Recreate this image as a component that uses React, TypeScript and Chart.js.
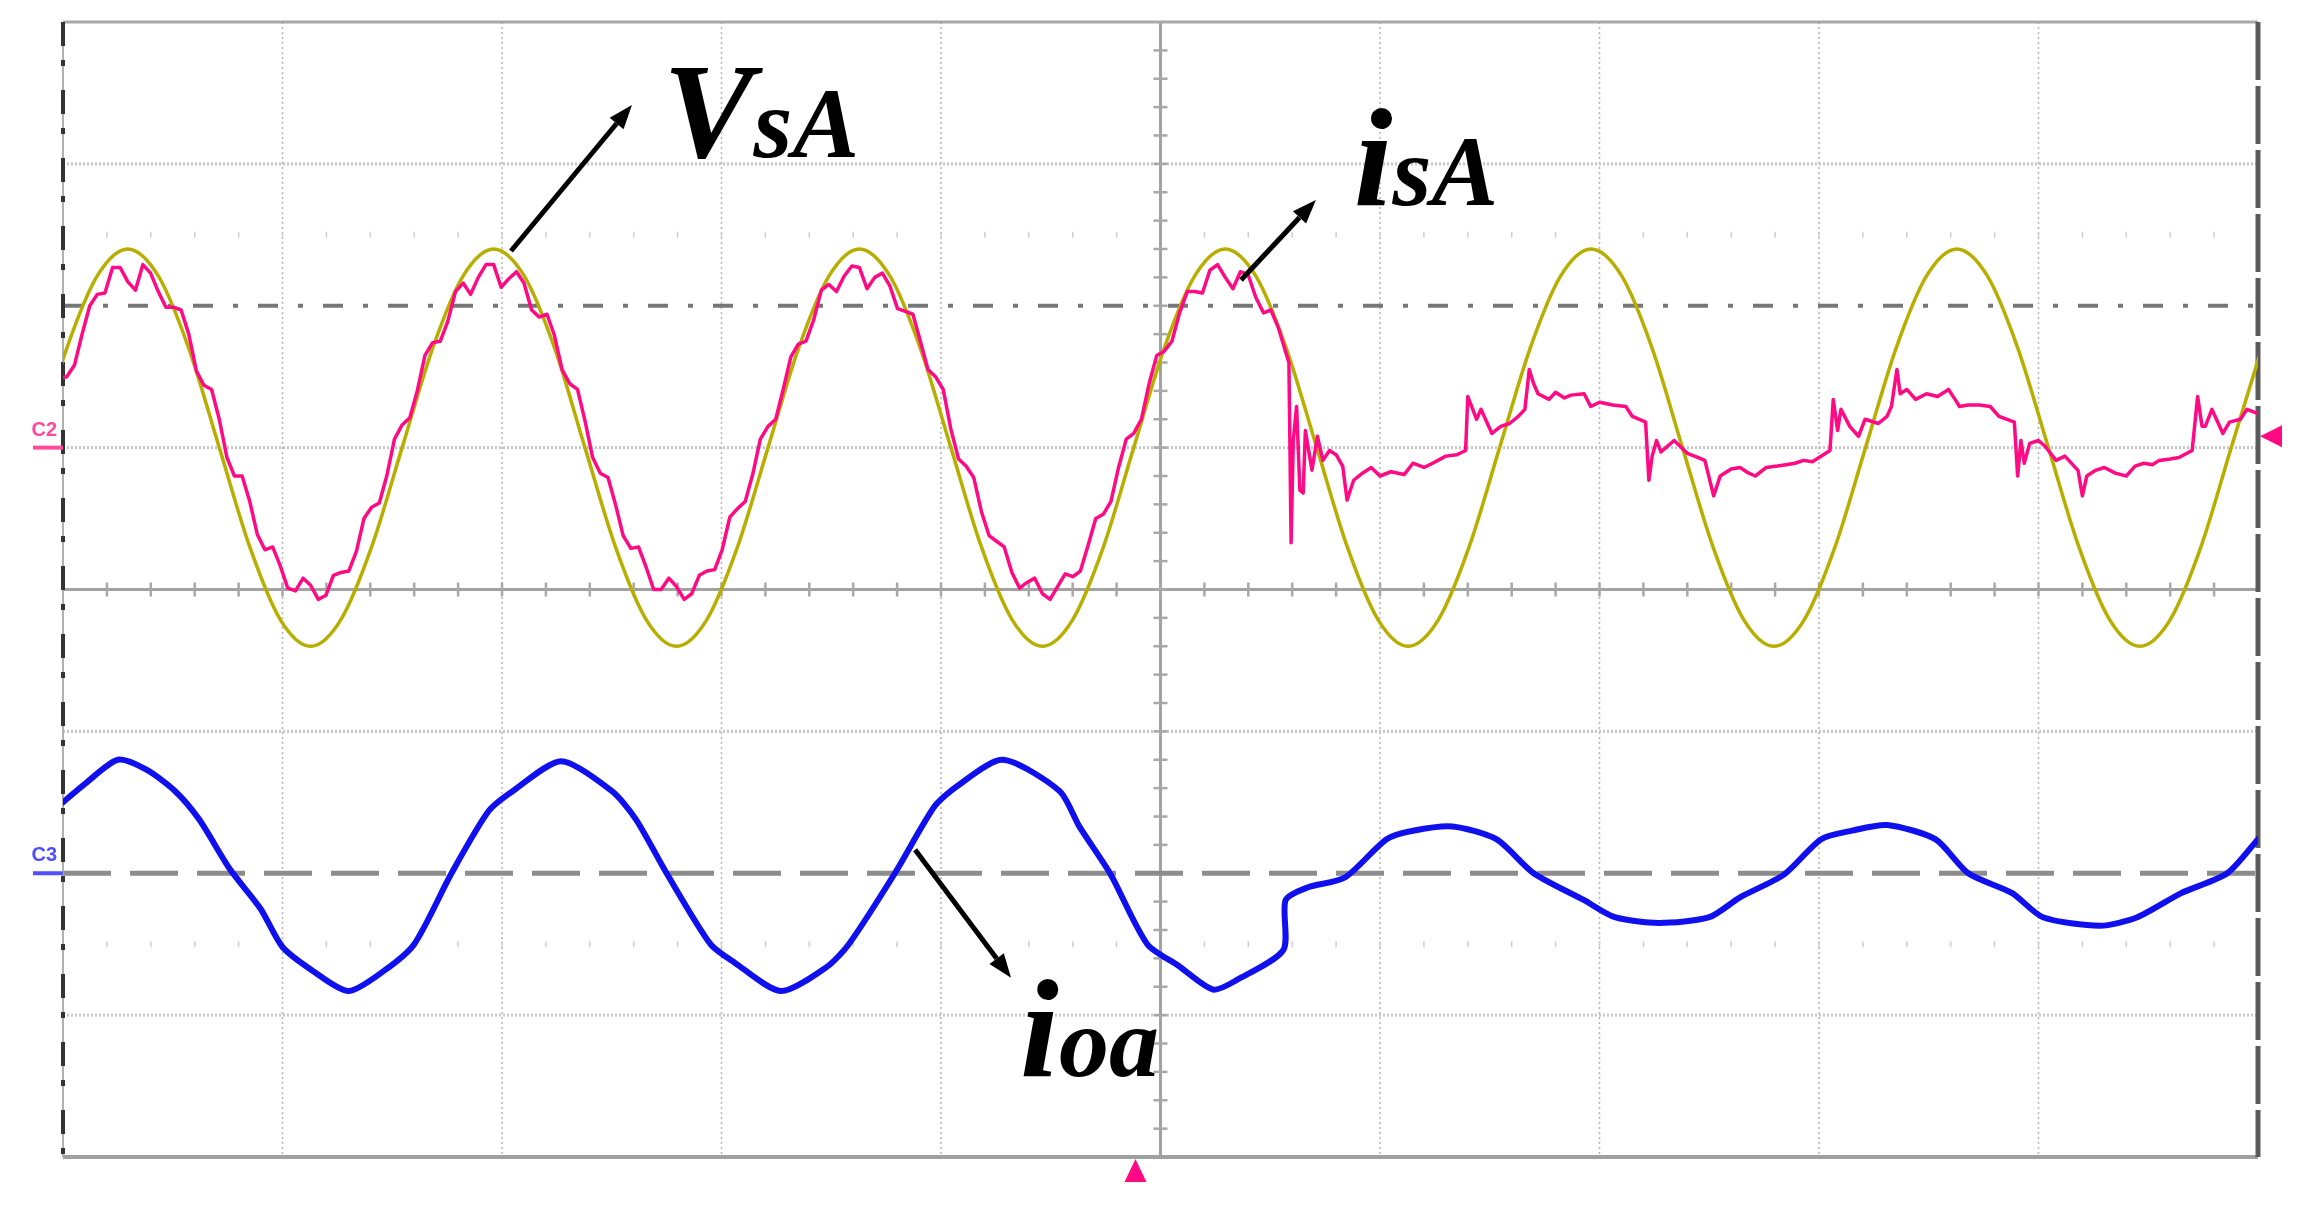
import React, { useEffect, useRef } from "react";
import { Chart, registerables } from "chart.js";

Chart.register(...registerables);

// ---- axis ranges (oscilloscope: 10 x 8 divisions) ----
const X_MIN = 0;
const X_MAX = 10;
const Y_MIN = -4;
const Y_MAX = 4;

// ---- grid layout values (in divisions) ----
const V_DOTTED = [1, 2, 3, 4, 6, 7, 8, 9];
const H_DOTTED = [3, 1, -1, -3];
const CENTER_X = 5;
const CENTER_Y = 0;
const REF_DASHDOT = 2;
const REF_DASHED = -2;
const TICK_ROWS = [2.5, -2.5];

// ---- VsA (supply voltage) ----
const VSA_T = [-0.122, 0.017, 0.156, 0.295, 0.434, 0.573, 0.712, 0.851, 0.989, 1.128, 1.267, 1.406, 1.545, 1.684, 1.823,
  1.962, 2.101, 2.24, 2.378, 2.517, 2.656, 2.795, 2.934, 3.073, 3.212, 3.351, 3.49, 3.628, 3.767, 3.906, 4.045, 4.184,
  4.323, 4.462, 4.601, 4.74, 4.878, 5.017, 5.156, 5.295, 5.434, 5.573, 5.712, 5.851, 5.99, 6.128, 6.267, 6.406, 6.545,
  6.684, 6.823, 6.962, 7.101, 7.24, 7.378, 7.517, 7.656, 7.795, 7.934, 8.073, 8.212, 8.351, 8.49, 8.628, 8.767, 8.906,
  9.045, 9.184, 9.323, 9.462, 9.601, 9.74, 9.878, 10.017];
const VSA_V = [1.0, 1.7, 2.21,
  2.4, 2.21, 1.7, 1.0, 0.3, -0.21, -0.4, -0.21, 0.3, 1.0, 1.7, 2.21,
  2.4, 2.21, 1.7, 1.0, 0.3, -0.21, -0.4, -0.21, 0.3, 1.0, 1.7, 2.21,
  2.4, 2.21, 1.7, 1.0, 0.3, -0.21, -0.4, -0.21, 0.3, 1.0, 1.7, 2.21,
  2.4, 2.21, 1.7, 1.0, 0.3, -0.21, -0.4, -0.21, 0.3, 1.0, 1.7, 2.21,
  2.4, 2.21, 1.7, 1.0, 0.3, -0.21, -0.4, -0.21, 0.3, 1.0, 1.7, 2.21,
  2.4, 2.21, 1.7, 1.0, 0.3, -0.21, -0.4, -0.21, 0.3, 1.0, 1.7];

// ---- isA (source current) ----
const ISA_T = [-0.052, -0.017, 0.017, 0.052, 0.087, 0.122, 0.156, 0.191, 0.226, 0.26, 0.295, 0.33, 0.364, 0.399, 0.434,
  0.469, 0.503, 0.538, 0.573, 0.608, 0.642, 0.677, 0.712, 0.747, 0.781, 0.816, 0.851, 0.885, 0.92, 0.955, 0.989, 1.024,
  1.059, 1.094, 1.128, 1.163, 1.198, 1.232, 1.267, 1.302, 1.337, 1.371, 1.406, 1.441, 1.475, 1.51, 1.545, 1.58, 1.614,
  1.649, 1.684, 1.719, 1.753, 1.788, 1.823, 1.857, 1.892, 1.927, 1.962, 1.996, 2.031, 2.066, 2.1, 2.135, 2.17, 2.205,
  2.239, 2.274, 2.309, 2.344, 2.378, 2.413, 2.448, 2.483, 2.517, 2.552, 2.587, 2.622, 2.656, 2.691, 2.725, 2.76, 2.795,
  2.83, 2.864, 2.899, 2.934, 2.969, 3.003, 3.038, 3.073, 3.108, 3.142, 3.177, 3.212, 3.247, 3.281, 3.316, 3.35, 3.385,
  3.42, 3.455, 3.489, 3.524, 3.559, 3.594, 3.628, 3.663, 3.698, 3.733, 3.767, 3.802, 3.837, 3.872, 3.906, 3.941, 3.975,
  4.01, 4.045, 4.08, 4.114, 4.149, 4.184, 4.219, 4.253, 4.288, 4.323, 4.358, 4.392, 4.427, 4.462, 4.497, 4.531, 4.566,
  4.6, 4.635, 4.67, 4.705, 4.739, 4.774, 4.809, 4.844, 4.878, 4.913, 4.948, 4.983, 5.017, 5.052, 5.087, 5.122, 5.156,
  5.191, 5.225, 5.26, 5.295, 5.33, 5.364, 5.399, 5.434, 5.469, 5.503, 5.538, 5.573,
  5.585, 5.595, 5.605, 5.62, 5.635, 5.65, 5.66, 5.69, 5.715, 5.74, 5.77, 5.8, 5.83, 5.85, 5.88, 5.92, 5.96, 6.0, 6.05,
  6.11, 6.15, 6.2, 6.24, 6.3, 6.35, 6.39, 6.4, 6.42, 6.44, 6.46, 6.51, 6.55, 6.59, 6.63, 6.66, 6.68, 6.7, 6.72, 6.77,
  6.8, 6.84, 6.87, 6.93, 6.96, 7.0, 7.06, 7.12, 7.15, 7.21, 7.225, 7.24, 7.26, 7.28, 7.34, 7.4, 7.45, 7.48, 7.52, 7.55,
  7.6, 7.64, 7.68, 7.71, 7.76, 7.81, 7.85, 7.89, 7.93, 7.97, 8.02, 8.05, 8.065, 8.085, 8.1, 8.14, 8.18, 8.21, 8.27,
  8.31, 8.33, 8.355, 8.37, 8.4, 8.44, 8.49, 8.54, 8.59, 8.62, 8.64, 8.68, 8.73, 8.78, 8.82, 8.89, 8.905, 8.92, 8.935,
  8.96, 9.0, 9.03, 9.08, 9.12, 9.18, 9.2, 9.22, 9.26, 9.3, 9.35, 9.4, 9.44, 9.48, 9.52, 9.55, 9.6, 9.64, 9.7, 9.725,
  9.745, 9.76, 9.79, 9.84, 9.87, 9.92, 9.95, 10.0];
const ISA_V = [1.32, 1.49, 1.5, 1.58, 1.8, 2.0, 2.08, 2.09, 2.27, 2.27, 2.17, 2.11, 2.29, 2.23, 2.1, 1.99, 1.99, 1.97,
  1.8, 1.54, 1.44, 1.41, 1.2, 0.93, 0.8, 0.8, 0.62, 0.39, 0.28, 0.3, 0.17, 0.01, -0.01, 0.08, 0.03, -0.07, -0.04, 0.1,
  0.12, 0.13, 0.27, 0.5, 0.58, 0.61, 0.8, 1.06, 1.16, 1.21, 1.4, 1.65, 1.74, 1.75, 1.89, 2.1, 2.16, 2.08, 2.2, 2.29,
  2.29, 2.13, 2.19, 2.24, 2.16, 1.97, 1.92, 1.94, 1.79, 1.55, 1.45, 1.41, 1.19, 0.93, 0.82, 0.79, 0.6, 0.38, 0.29, 0.3,
  0.16, 0.0, 0.0, 0.08, 0.02, -0.07, -0.03, 0.1, 0.13, 0.14, 0.28, 0.51, 0.57, 0.62, 0.81, 1.06, 1.15, 1.2, 1.41, 1.64,
  1.73, 1.75, 1.9, 2.11, 2.15, 2.1, 2.21, 2.28, 2.27, 2.12, 2.2, 2.23, 2.14, 1.98, 1.96, 1.94, 1.75, 1.55, 1.5, 1.41,
  1.13, 0.92, 0.87, 0.79, 0.55, 0.38, 0.34, 0.3, 0.12, 0.01, 0.05, 0.08, -0.03, -0.07, 0.02, 0.11, 0.09, 0.13, 0.31,
  0.5, 0.53, 0.62, 0.86, 1.06, 1.1, 1.2, 1.45, 1.65, 1.68, 1.75, 1.95, 2.1, 2.1, 2.09, 2.25, 2.29, 2.2, 2.12, 2.24,
  2.22, 2.06, 1.95, 1.97, 1.84, 1.66,
  1.6, 0.33, 1.05, 1.29, 0.7, 0.68, 1.12, 0.84, 1.08, 0.91, 0.98, 0.95, 0.87, 0.63, 0.77, 0.82, 0.86, 0.8, 0.83,
  0.81, 0.89, 0.86, 0.89, 0.94, 0.95, 0.98, 1.36, 1.28, 1.2, 1.27, 1.1, 1.15, 1.17, 1.22, 1.27, 1.55, 1.45, 1.38, 1.34,
  1.39, 1.35, 1.37, 1.38, 1.29, 1.32, 1.3, 1.29, 1.22, 1.18, 0.77, 0.94, 1.05, 0.97, 1.05, 0.96, 0.93, 0.91, 0.66, 0.8,
  0.85, 0.86, 0.82, 0.8, 0.86, 0.87, 0.88, 0.89, 0.91, 0.9, 0.95, 0.98, 1.34, 1.12, 1.27, 1.15, 1.08, 1.2, 1.17,
  1.22, 1.29, 1.55, 1.38, 1.41, 1.34, 1.38, 1.36, 1.41, 1.34, 1.29, 1.3, 1.3, 1.29, 1.22, 1.18, 0.8, 1.05, 0.89,
  1.03, 1.05, 1.01, 0.91, 0.94, 0.84, 0.66, 0.8, 0.84, 0.86, 0.82, 0.8, 0.87, 0.89, 0.88, 0.91, 0.92, 0.93, 0.98, 1.36,
  1.15, 1.15, 1.27, 1.1, 1.18, 1.2, 1.27, 1.24];

// ---- ioa (load current) ----
const IOA_T = [0, 0.1, 0.25, 0.38, 0.51, 0.62, 0.76, 0.9, 1.0, 1.14, 1.3, 1.46, 1.6, 1.77, 1.94, 2.05, 2.27, 2.5,
  2.61, 2.75, 2.95, 3.06, 3.27, 3.48, 3.58, 3.79, 3.97, 4.07, 4.28, 4.54, 4.63, 4.77, 4.94, 5.08, 5.24, 5.35, 5.56,
  5.57, 5.67, 5.84, 6.03, 6.15, 6.33, 6.53, 6.7, 6.93, 7.07, 7.27, 7.5, 7.64, 7.84, 8.01, 8.15, 8.31, 8.53, 8.68,
  8.88, 9.02, 9.28, 9.45, 9.65, 9.86, 10.0];
const IOA_V = [-1.5, -1.37, -1.2, -1.27, -1.42, -1.62, -1.97, -2.25, -2.52, -2.69, -2.83, -2.69, -2.5, -2.0, -1.56,
  -1.42, -1.21, -1.42, -1.62, -2.0, -2.5, -2.63, -2.83, -2.66, -2.5, -2.0, -1.53, -1.39, -1.2, -1.42, -1.67, -2.0,
  -2.5, -2.65, -2.82, -2.75, -2.54, -2.19, -2.1, -2.03, -1.76, -1.7, -1.67, -1.76, -2.0, -2.19, -2.31, -2.35, -2.31,
  -2.17, -2.01, -1.76, -1.7, -1.66, -1.76, -2.0, -2.14, -2.31, -2.37, -2.31, -2.14, -2.0, -1.76];

// ---- annotation labels (positions in divisions) ----
const LABELS = [
  { main: "V", sub: "sA", x: 2.733, y: 3.05, mainSize: 136, subSize: 100 },
  { main: "i", sub: "sA", x: 5.88, y: 2.71, mainSize: 140, subSize: 100 },
  { main: "i", sub: "oa", x: 4.36, y: -3.43, mainSize: 140, subSize: 100 },
];
const ARROWS = [
  { x1: 2.041, y1: 2.386, x2: 2.592, y2: 3.415 },
  { x1: 5.367, y1: 2.182, x2: 5.708, y2: 2.746 },
  { x1: 3.882, y1: -1.835, x2: 4.319, y2: -2.737 },
];
const C2_LEVEL = 1;
const C3_LEVEL = -2;
const TRIG_LEVEL = 1.08;
const TRIG_TIME = 4.886;

const COLOR_VSA = "#b7ae00";
const COLOR_ISA = "#ff0a84";
const COLOR_IOA = "#1010ee";
const SERIF = '"Liberation Serif", "Times New Roman", Times, serif';

const toXY = (t: number[], v: number[]) => t.map((tt, i) => ({ x: tt, y: v[i] }));

const scopePlugin = {
  id: "scopeDecor",
  beforeDatasetsDraw(chart: any) {
    const { ctx, chartArea: a, scales } = chart;
    const px = (v: number) => scales.x.getPixelForValue(v);
    const py = (v: number) => scales.y.getPixelForValue(v);
    const line = (x1: number, y1: number, x2: number, y2: number, color: string, w: number, dash: number[] = []) => {
      ctx.beginPath();
      ctx.setLineDash(dash);
      ctx.strokeStyle = color;
      ctx.lineWidth = w;
      ctx.moveTo(x1, y1);
      ctx.lineTo(x2, y2);
      ctx.stroke();
    };
    ctx.save();
    ctx.lineCap = "butt";
    V_DOTTED.forEach((v) => line(px(v), a.top, px(v), a.bottom, "#b4b4b4", 1.5, [2, 3]));
    H_DOTTED.forEach((v) => line(a.left, py(v), a.right, py(v), "#c6c6c6", 3, [2, 2]));
    TICK_ROWS.forEach((r) => {
      for (let k = 1; k < 50; k++) {
        const xx = px(X_MIN + k * 0.2);
        line(xx, py(r) - 3, xx, py(r) + 3, "#cfcfcf", 1.5);
      }
    });
    line(px(CENTER_X), a.top, px(CENTER_X), a.bottom, "#a2a2a2", 3);
    line(a.left, py(CENTER_Y), a.right, py(CENTER_Y), "#a2a2a2", 3);
    for (let k = 1; k < 50; k++) {
      const xx = px(X_MIN + k * 0.2);
      line(xx, py(CENTER_Y) - 7, xx, py(CENTER_Y) + 7, "#a8a8a8", 2.5);
    }
    for (let k = 1; k < 40; k++) {
      const yy = py(Y_MIN + k * 0.2);
      line(px(CENTER_X) - 7, yy, px(CENTER_X) + 7, yy, "#a8a8a8", 2.5);
    }
    line(a.left, py(REF_DASHDOT), a.right, py(REF_DASHDOT), "#777777", 4, [20, 20, 5, 20]);
    line(a.left, py(REF_DASHED), a.right, py(REF_DASHED), "#8c8c8c", 5, [48, 19]);
    line(a.left, a.top, a.right, a.top, "#a8a8a8", 3);
    line(a.left, a.bottom, a.right, a.bottom, "#a0a0a0", 4);
    line(a.left, a.top, a.left, a.bottom, "#b0b0b0", 2);
    line(a.left, a.top, a.left, a.bottom, "#333333", 4, [24, 14, 6, 24]);
    line(a.right, a.top, a.right, a.bottom, "#5a5a5a", 5, [58, 6]);
    ctx.restore();
  },
  afterDatasetsDraw(chart: any) {
    const { ctx, chartArea: a, scales } = chart;
    const px = (v: number) => scales.x.getPixelForValue(v);
    const py = (v: number) => scales.y.getPixelForValue(v);
    ctx.save();
    ctx.setLineDash([]);
    ARROWS.forEach((ar) => {
      const x1 = px(ar.x1), y1 = py(ar.y1), x2 = px(ar.x2), y2 = py(ar.y2);
      const ang = Math.atan2(y2 - y1, x2 - x1);
      const hl = 24, hw = 9;
      const bx = x2 - hl * Math.cos(ang), by = y2 - hl * Math.sin(ang);
      ctx.strokeStyle = "#000";
      ctx.lineWidth = 5;
      ctx.beginPath();
      ctx.moveTo(x1, y1);
      ctx.lineTo(bx, by);
      ctx.stroke();
      ctx.fillStyle = "#000";
      ctx.beginPath();
      ctx.moveTo(x2, y2);
      ctx.lineTo(bx + hw * Math.sin(ang), by - hw * Math.cos(ang));
      ctx.lineTo(bx - hw * Math.sin(ang), by + hw * Math.cos(ang));
      ctx.closePath();
      ctx.fill();
    });
    ctx.fillStyle = "#000";
    ctx.textBaseline = "alphabetic";
    ctx.textAlign = "left";
    LABELS.forEach((lb) => {
      const X = px(lb.x), Y = py(lb.y);
      ctx.font = `italic bold ${lb.mainSize}px ${SERIF}`;
      ctx.fillText(lb.main, X, Y);
      const w = ctx.measureText(lb.main).width;
      ctx.font = `italic bold ${lb.subSize}px ${SERIF}`;
      ctx.fillText(lb.sub, X + w, Y);
    });
    ctx.font = 'bold 20px "Liberation Sans", Arial, sans-serif';
    ctx.textAlign = "right";
    ctx.fillStyle = "#ff4a9c";
    ctx.fillText("C2", a.left - 6, py(C2_LEVEL) - 12);
    ctx.fillRect(a.left - 30, py(C2_LEVEL) - 2, 30, 4);
    ctx.fillStyle = "#4f4fff";
    ctx.fillText("C3", a.left - 6, py(C3_LEVEL) - 12);
    ctx.fillRect(a.left - 30, py(C3_LEVEL) - 2, 30, 4);
    ctx.fillStyle = COLOR_ISA;
    const ty = py(TRIG_LEVEL);
    ctx.beginPath();
    ctx.moveTo(a.right + 2, ty);
    ctx.lineTo(a.right + 24, ty - 11);
    ctx.lineTo(a.right + 24, ty + 11);
    ctx.closePath();
    ctx.fill();
    const tx = px(TRIG_TIME);
    ctx.beginPath();
    ctx.moveTo(tx, a.bottom + 2);
    ctx.lineTo(tx - 11, a.bottom + 25);
    ctx.lineTo(tx + 11, a.bottom + 25);
    ctx.closePath();
    ctx.fill();
    ctx.restore();
  },
};

export default function App() {
  const ref = useRef<HTMLCanvasElement | null>(null);
  useEffect(() => {
    document.body.style.margin = "0";
    const canvas = ref.current;
    if (!canvas) return;
    const chart = new Chart(canvas, {
      type: "line",
      data: {
        datasets: [
          {
            label: "ioa",
            data: toXY(IOA_T, IOA_V),
            borderColor: COLOR_IOA,
            borderWidth: 6,
            pointRadius: 0,
            tension: 0.25,
            order: 3,
          },
          {
            label: "VsA",
            data: toXY(VSA_T, VSA_V),
            borderColor: COLOR_VSA,
            borderWidth: 3.5,
            pointRadius: 0,
            cubicInterpolationMode: "monotone",
            order: 2,
          },
          {
            label: "isA",
            data: toXY(ISA_T, ISA_V),
            borderColor: COLOR_ISA,
            borderWidth: 3.5,
            pointRadius: 0,
            tension: 0,
            order: 1,
          },
        ],
      },
      options: {
        animation: false,
        responsive: false,
        devicePixelRatio: 1,
        layout: { padding: { left: 63, top: 22, right: 48, bottom: 58 } },
        plugins: { legend: { display: false }, tooltip: { enabled: false }, title: { display: false } },
        scales: {
          x: { type: "linear", min: X_MIN, max: X_MAX, display: false },
          y: { type: "linear", min: Y_MIN, max: Y_MAX, display: false },
        },
        elements: { line: { borderJoinStyle: "round", borderCapStyle: "round" } },
      },
      plugins: [scopePlugin],
    } as any);
    let alive = true;
    const fonts = (document as any).fonts;
    if (fonts && fonts.load) {
      Promise.all([
        fonts.load(`italic bold 136px ${SERIF}`, "VsAio"),
        fonts.load(`italic bold 100px ${SERIF}`, "sAoa"),
      ]).then(() => { if (alive) chart.draw(); }).catch(() => {});
    }
    return () => { alive = false; chart.destroy(); };
  }, []);
  return (
    <div style={{ width: 2306, height: 1215, background: "#fff", position: "relative" }}>
      <span style={{ position: "absolute", left: -9999, top: 0, font: `italic bold 20px ${SERIF}` }}>VsAio</span>
      <canvas ref={ref} width={2306} height={1215} style={{ display: "block" }} />
    </div>
  );
}
